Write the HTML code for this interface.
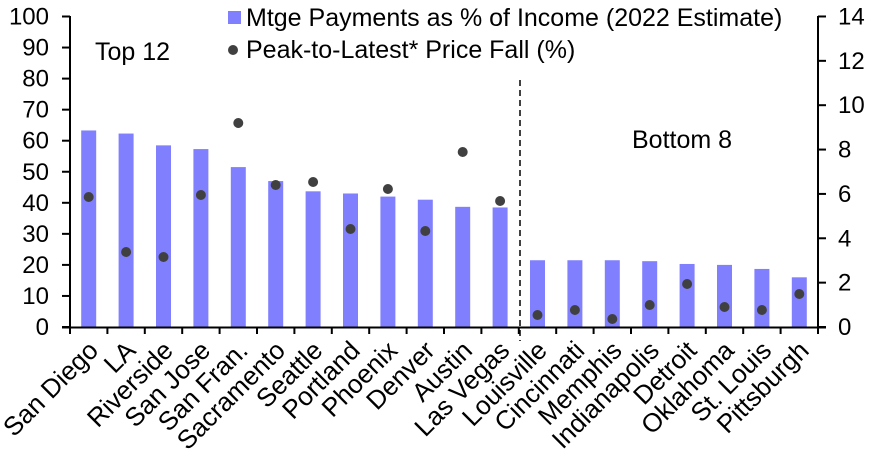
<!DOCTYPE html>
<html><head><meta charset="utf-8"><style>
html,body{margin:0;padding:0;background:#fff;}
svg{display:block;font-family:"Liberation Sans",Arial,sans-serif;}
</style></head><body>
<svg width="879" height="474" viewBox="0 0 879 474">
<g id="bars" fill="#8080ff"></g>
<g id="dots" fill="#404040"></g>
<line x1="520" y1="80" x2="520" y2="341" stroke="#000" stroke-width="1.5" stroke-dasharray="6,4"/>
<g stroke="#000" stroke-width="2" fill="none" id="axes">
<line x1="70" y1="16" x2="70" y2="328"/>
<line x1="818" y1="16" x2="818" y2="328"/>
<line x1="62" y1="327.5" x2="826" y2="327.5"/>
</g>
<g id="ticks" stroke="#000" stroke-width="2"></g>
<g id="ylab" font-size="24" fill="#000"></g>
<g id="xlab" font-size="26" fill="#000"></g>
<rect x="228" y="11" width="13" height="13" fill="#8080ff"/>
<text x="246" y="26" font-size="25">Mtge Payments as % of Income (2022 Estimate)</text>
<circle cx="233" cy="50" r="5" fill="#404040"/>
<text x="246" y="58" font-size="25">Peak-to-Latest* Price Fall (%)</text>
<text x="95" y="60" font-size="25">Top 12</text>
<text x="632" y="148" font-size="25">Bottom 8</text>
</svg>
<script>
const ns="http://www.w3.org/2000/svg";
const names=["San Diego","LA","Riverside","San Jose","San Fran.","Sacramento","Seattle","Portland","Phoenix","Denver","Austin","Las Vegas","Louisville","Cincinnati","Memphis","Indianapolis","Detroit","Oklahoma","St. Louis","Pittsburgh"];
const bars=[63.3,62.3,58.5,57.3,51.5,47,43.7,43,42,41,38.7,38.5,21.5,21.5,21.5,21.2,20.3,20,18.7,16];
const dots=[197,252,257,195,123,185,182,229,189,231,152,201,315,310,319,305,284,307,310,294];
function el(t,a,p,txt){const e=document.createElementNS(ns,t);for(const k in a)e.setAttribute(k,a[k]);if(txt)e.textContent=txt;document.getElementById(p).appendChild(e);}
const y0=327,sc=3.105,step=37.4;
for(let i=0;i<20;i++){
 const c=70+step*(i+0.5);
 el("rect",{x:c-7.5,y:y0-bars[i]*sc,width:15,height:bars[i]*sc},"bars");
 el("circle",{cx:c,cy:dots[i],r:5},"dots");
 el("text",{x:0,y:0,"text-anchor":"end",transform:`translate(${c+11},${352}) rotate(-45)`},"xlab",names[i]);
}
for(let i=0;i<=20;i++){const x=70+step*i;el("line",{x1:x,y1:327,x2:x,y2:334},"ticks");}
for(let v=0;v<=100;v+=10){const y=y0-v*sc;el("line",{x1:62,y1:y,x2:70,y2:y},"ticks");el("text",{x:49,y:y+8,"text-anchor":"end"},"ylab",String(v));}
for(let v=0;v<=14;v+=2){const y=y0-v*22.18;el("line",{x1:818,y1:y,x2:826,y2:y},"ticks");el("text",{x:838,y:y+8},"ylab",String(v));}
</script>
</body></html>
